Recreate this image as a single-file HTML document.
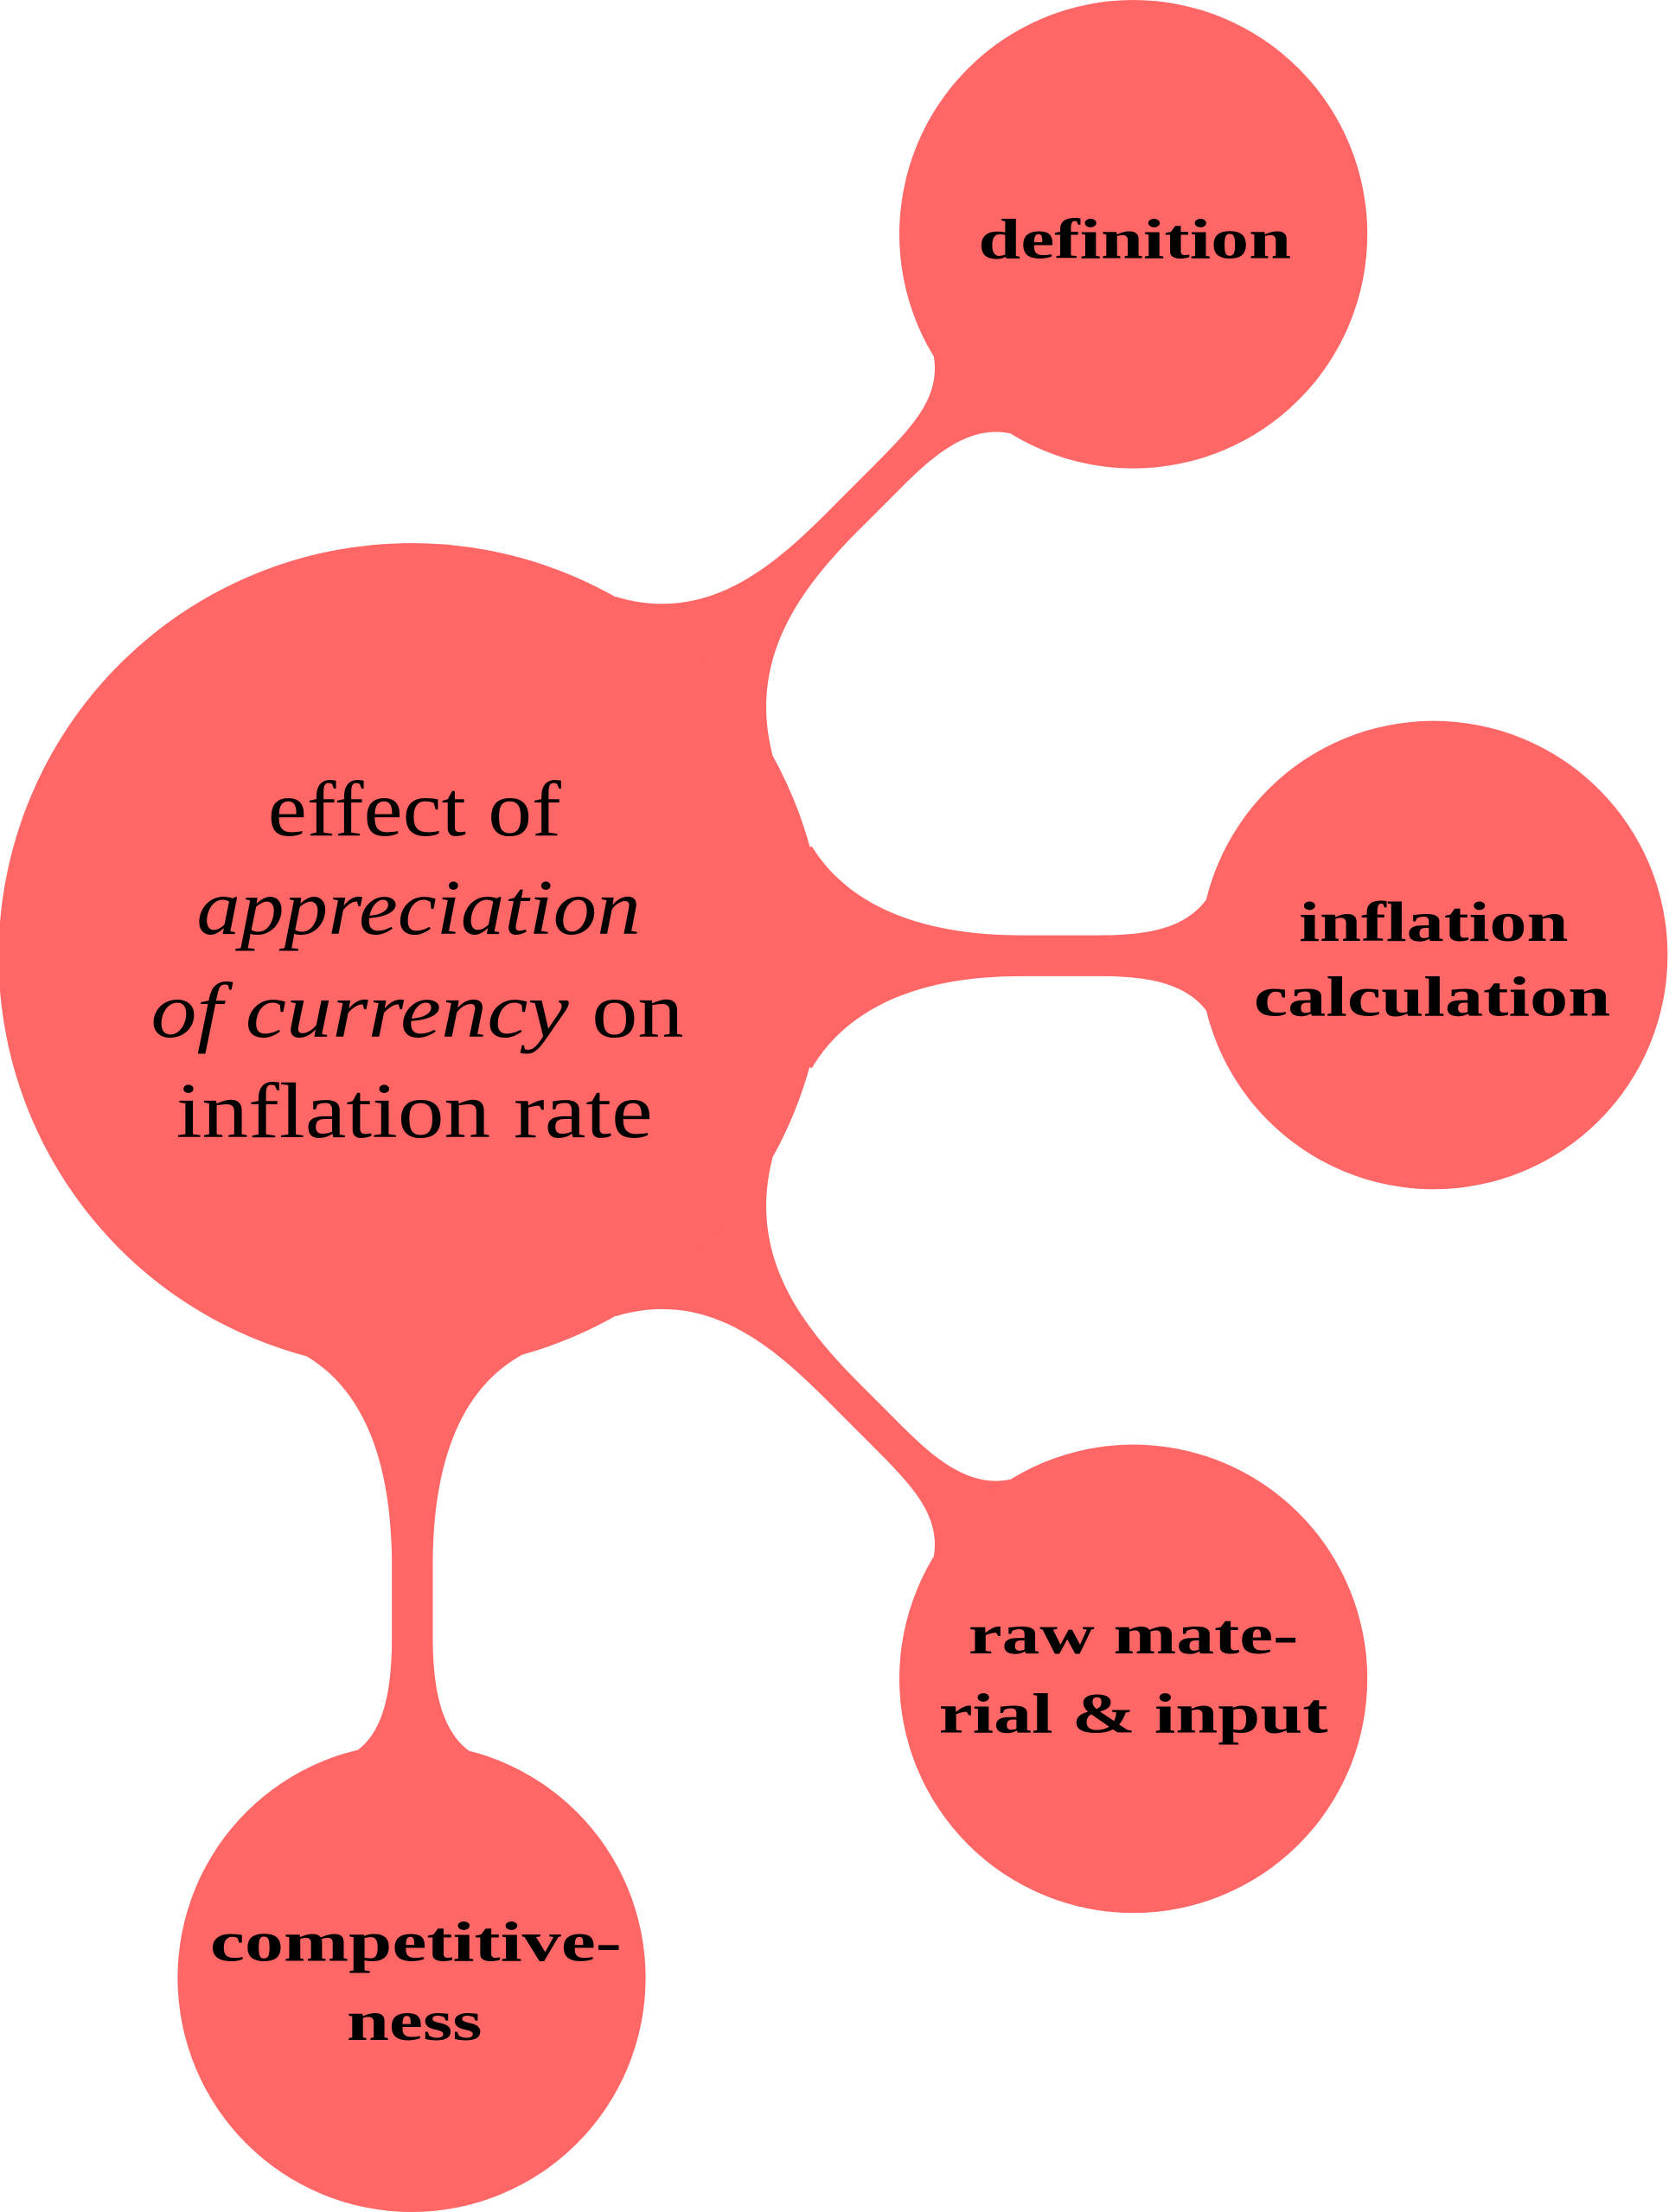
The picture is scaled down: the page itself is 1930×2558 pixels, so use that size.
<!DOCTYPE html>
<html><head><meta charset="utf-8"><style>html,body{margin:0;padding:0;background:#fff;}svg{display:block;}</style></head>
<body>
<svg width="1930" height="2558" viewBox="0 0 1184 1568" preserveAspectRatio="none" xmlns="http://www.w3.org/2000/svg">
<g fill="#FF6666">
<path d="M437,423 C510,445 560,390 600,350 L620,330 C650,300 668,280 662,250 L804,166 L720,308 C690,300 665,320 640,345 L610,375 C570,415 530,465 548,535 L292,678 Z"/>
<path d="M576,600 C610,655 680,663 725,663 L780,663 C815,663 842,658 857,636 L1017,677 L857,718 C842,697 815,692 780,692 L725,692 C680,692 610,700 576,757 L292,678 Z"/>
<path d="M437,933 C510,911 560,966 600,1006 L620,1026 C650,1056 668,1076 662,1106 L804,1190 L720,1048 C690,1056 665,1036 640,1011 L610,981 C570,941 530,891 548,821 L292,678 Z"/>
<path d="M215,960 C260,985 278,1040 278,1110 L278,1160 C278,1200 272,1228 252,1242 L292,1402 L334,1242 C314,1228 307,1200 307,1160 L307,1110 C307,1040 325,985 371,960 L292,678 Z"/>
<circle cx="292" cy="678" r="293"/>
<circle cx="804" cy="166" r="166"/>
<circle cx="1017" cy="677" r="166"/>
<circle cx="804" cy="1190" r="166"/>
<circle cx="292" cy="1402" r="166"/>
</g>
<g font-family="'Liberation Serif', serif" fill="#000" text-anchor="middle">
<g font-size="56">
<text x="294" y="592" textLength="208" lengthAdjust="spacingAndGlyphs">effect of</text>
<text x="297" y="662" font-style="italic" textLength="315" lengthAdjust="spacingAndGlyphs">appreciation</text>
<text x="296" y="735" textLength="378" lengthAdjust="spacingAndGlyphs"><tspan font-style="italic">of currency</tspan> on</text>
<text x="294" y="806" textLength="338" lengthAdjust="spacingAndGlyphs">inflation rate</text>
</g>
<g font-weight="bold" font-size="40">
<text x="805" y="183" textLength="222" lengthAdjust="spacingAndGlyphs">definition</text>
<text x="1017" y="667" textLength="191" lengthAdjust="spacingAndGlyphs">inflation</text>
<text x="1016" y="720" textLength="253" lengthAdjust="spacingAndGlyphs">calculation</text>
<text x="804" y="1172" textLength="234" lengthAdjust="spacingAndGlyphs">raw mate-</text>
<text x="804" y="1228" textLength="276" lengthAdjust="spacingAndGlyphs">rial &amp; input</text>
<text x="295" y="1390" textLength="292" lengthAdjust="spacingAndGlyphs">competitive-</text>
<text x="294" y="1446" textLength="96" lengthAdjust="spacingAndGlyphs">ness</text>
</g>
</g>
</svg>
</body></html>
